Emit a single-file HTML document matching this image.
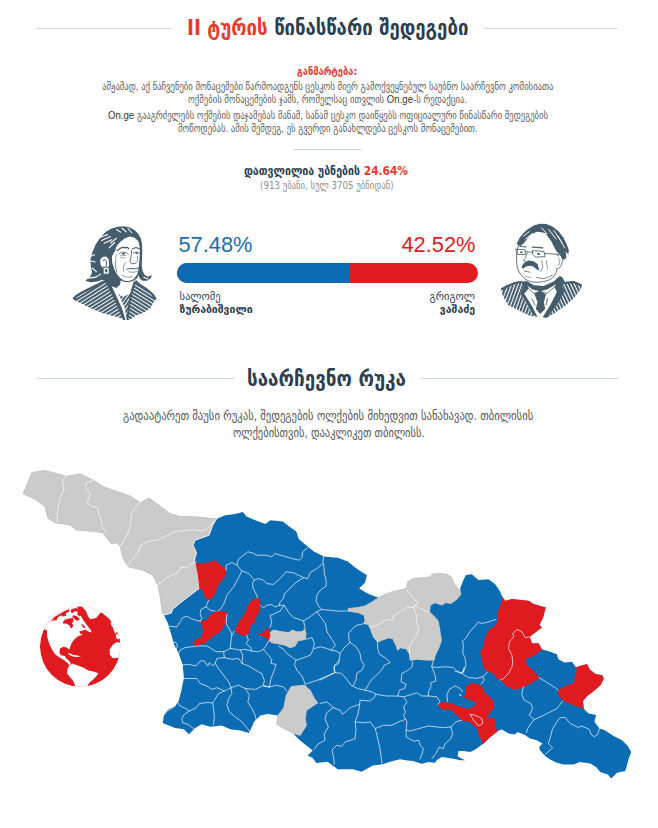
<!DOCTYPE html>
<html lang="ka">
<head>
<meta charset="utf-8">
<title>II ტურის წინასწარი შედეგები</title>
<style>
html,body{margin:0;padding:0;background:#fff;}
body{width:658px;height:828px;position:relative;overflow:hidden;font-family:"Liberation Sans","DejaVu Sans",sans-serif;color:#555;}
.t{position:absolute;white-space:nowrap;display:inline-block;transform-origin:0 0;}
.ge{font-family:"DejaVu Sans Condensed","DejaVu Sans",sans-serif;font-stretch:condensed;}
.hd{font-family:"DejaVu Sans","Liberation Sans",sans-serif;font-weight:bold;color:#2c3e50;}
.r{color:#e8392d;}
.rule{position:absolute;height:1px;background:#d3dae3;}
.p{font-size:10.6px;line-height:13px;color:#5c5c5c;font-family:"Liberation Sans","DejaVu Sans Condensed","DejaVu Sans",sans-serif;font-stretch:condensed;}
.p .l{color:#333;}
.p2{font-size:12.3px;line-height:16px;color:#555;font-family:"Liberation Sans","DejaVu Sans Condensed","DejaVu Sans",sans-serif;font-stretch:condensed;}
.num{font-family:"Liberation Sans",sans-serif;font-size:21.8px;line-height:24px;}
.nm{font-family:"DejaVu Sans",sans-serif;color:#2c3e50;font-size:10.5px;line-height:12px;}
</style>
</head>
<body>
<!-- title -->
<div class="rule" style="left:37px;top:28px;width:135px;"></div>
<div class="rule" style="left:483px;top:28px;width:135px;"></div>
<div class="t hd" id="title" style="left:187px;top:16px;transform:scaleX(0.9937);font-size:20.8px;line-height:24px;font-family:'DejaVu Sans Condensed','DejaVu Sans',sans-serif;font-stretch:condensed;"><span class="r">II ტურის</span> წინასწარი შედეგები</div>

<div class="t ge" id="expl" style="left:296.9px;top:64.5px;transform:scaleX(0.94);font-size:11px;line-height:13px;font-weight:bold;color:#e8392d;">განმარტება:</div>
<div class="t p" id="l1" style="left:102px;top:80px;transform:scaleX(0.908);">ამჟამად, აქ ნაჩვენები მონაცემები წარმოადგენს ცესკოს მიერ გამოქვეყნებულ საუბნო საარჩევნო კომისიათა</div>
<div class="t p" id="l2" style="left:188.2px;top:93px;transform:scaleX(0.908);">ოქმების მონაცემების ჯამს, რომელსაც ითვლის <span class="l">On.ge</span>-ს რედაქცია.</div>
<div class="t p" id="l3" style="left:107.5px;top:109px;transform:scaleX(0.908);"><span class="l">On.ge</span> გააგრძელებს ოქმების დაჯამებას მანამ, სანამ ცესკო დაიწყებს ოფიციალური წინასწარი შედეგების</div>
<div class="t p" id="l4" style="left:178px;top:122px;transform:scaleX(0.908);">მოწოდებას. ამის შემდეგ, ეს გვერდი განახლდება ცესკოს მონაცემებით.</div>

<div class="rule" style="left:293.5px;top:149px;width:67.5px;background:#ccd3dc;"></div>

<div class="t hd" id="cnt" style="left:243.7px;top:162.5px;font-size:12.5px;line-height:16px;font-family:'DejaVu Sans Condensed','DejaVu Sans',sans-serif;font-stretch:condensed;transform:scaleX(0.944);">დათვლილია უბნების <span class="r">24.64%</span></div>
<div class="t" id="cnt2" style="left:260.4px;top:178.5px;font-size:10.6px;line-height:13px;color:#8a8f94;font-family:'DejaVu Sans Condensed','DejaVu Sans',sans-serif;font-stretch:condensed;transform:scaleX(0.908);">(913 უბანი, სულ 3705 უბნიდან)</div>

<!-- results -->
<div class="t num" id="n1" style="left:178.5px;top:233px;color:#1a6db3;">57.48%</div>
<div class="t num" id="n2" style="left:401.5px;top:233px;color:#e01b22;">42.52%</div>
<div style="position:absolute;left:177px;top:262.5px;width:301px;height:20.5px;border-radius:10.5px;background:#e01b22;overflow:hidden;"><div style="position:absolute;left:0;top:0;bottom:0;width:172.7px;background:#0b6bb3;"></div></div>
<div class="t nm" id="a1" style="left:179.5px;top:290px;">სალომე</div>
<div class="t nm" id="a2" style="left:179.5px;top:303px;font-weight:bold;">ზურაბიშვილი</div>
<div class="t nm" id="b1" style="right:183px;top:290px;transform-origin:100% 0;">გრიგოლ</div>
<div class="t nm" id="b2" style="right:183px;top:303px;font-weight:bold;transform-origin:100% 0;">ვაშაძე</div>

<!-- map header -->
<div class="rule" style="left:37px;top:378px;width:197px;"></div>
<div class="rule" style="left:421px;top:378px;width:197px;"></div>
<div class="t hd" id="h2" style="left:247.4px;top:366.5px;transform:scaleX(1.0063);font-size:20.8px;line-height:24px;font-family:'DejaVu Sans Condensed','DejaVu Sans',sans-serif;font-stretch:condensed;">საარჩევნო რუკა</div>
<div class="t p2" id="m1" style="left:122.7px;top:408px;transform:scaleX(0.9636);">გადაატარეთ მაუსი რუკას, შედეგების ოლქების მიხედვით სანახავად. თბილისის</div>
<div class="t p2" id="m2" style="left:232.8px;top:424.5px;transform:scaleX(0.951);">ოლქებისთვის, დააკლიკეთ თბილისს.</div>

<!--MAP-->
<svg width="658" height="828" viewBox="0 0 658 828" style="position:absolute;left:0;top:0;">
<g stroke-linejoin="round">
<polygon fill="#0b6bb3" points="32,472.5 45,470.5 60,474.5 66.4,476.3 80.2,473.8 92.7,480 105.3,487.6 120.3,492.6 130.3,496.3 140.4,502.6 149,498 160.4,506.4 170.5,513.9 180.5,516.4 190,516.4 205,517.7 216.4,519 225.2,515.2 235.3,513.9 242.8,512.1 246.5,516.4 255.3,520.2 265.3,523.9 270.4,520.2 282.9,521.4 289.2,526.4 296.3,531.4 298.8,539 307.6,546.5 313.9,551.5 323.9,556.5 337.7,557.8 347.7,561.5 354.5,566.9 360.1,570.9 366.8,575.1 365.1,582.6 359.2,588.5 367.6,593.5 378.5,597.7 385.2,594.3 395.2,591 403.5,589.3 406.9,587.6 407.7,581.8 413.6,578.4 425.3,577.6 431.1,576.8 432,574.2 438.7,573.4 446.7,574.2 451.7,577.5 454.2,584.2 459.3,590.1 460.9,594.3 460.1,588.4 463.4,580.1 466,575 471.8,574.2 478.5,580.1 488.5,579.2 495.2,584.2 500.2,591.8 502.7,597.6 505.3,601 511.9,599.3 520.3,600.1 528.7,601 533.7,604.3 545.5,607.6 543,617.6 539.2,625.1 541.7,627.6 533.7,633.6 529.5,636.9 532,643.6 538.5,643.4 541.8,649.2 550.2,651.7 556.9,654.2 558.5,659.3 564.4,662.6 571.9,661.8 576.1,667.6 580.3,666 587,664.3 589.5,669.3 595.3,674.3 602,675.2 603.7,678.5 600.3,685.2 593.6,691 587,696.1 582.8,701.1 583.6,708.6 588.5,713.4 596.1,715.1 594.4,721.8 599.4,728.5 604.4,730.1 613.6,736 622,740.2 627.8,746 631.2,751.9 628.7,758.6 627,765.3 625.3,771.1 617,772.8 611.1,778.6 607.8,774.5 600.2,771.9 596.1,766.9 590.2,763.6 580.2,761.9 573.5,764.4 563.4,764.4 556.8,762.7 550.1,759.4 545.1,756.1 540,750.2 539.2,746.9 542.5,743.5 536.7,740.2 530,738.6 525.4,735.3 517.8,731.9 514.5,734.4 508.6,733.6 501.9,729.4 497.8,731.1 490.2,736.9 483.5,743.6 475.2,749.5 470.2,752 463.5,751.1 458.5,751.1 457.6,756.2 461.8,758.7 465.2,760.3 460.1,760.3 453.4,758.7 446.8,757.8 441.7,757 436.7,760.3 435.1,762.8 428.4,762 421.7,763.7 413,761 407.6,760.5 400,759.3 390,761.8 382.9,764.3 372.8,765.5 361.6,771.8 352.8,769.3 337.7,769.3 327.7,761.8 316.4,763 312.7,758 307.6,755.5 312.7,750.5 300.1,740.5 292.6,733 285.5,729.2 276.7,724.2 278,715.4 267.9,714.1 260.4,715.4 254.1,721.7 249.1,732.9 240.3,730.4 230.3,729.2 221.5,725.4 210.2,726.7 201.5,724.2 195.2,727.9 188.9,734.2 183.9,729.2 175.1,727.9 162.6,722.9 163.9,715.4 168.9,709.1 175.1,706.6 178.9,700.3 181.4,690.3 183.9,677.8 182.7,665.2 178.9,653.9 173.9,643.9 171.4,635.1 167.6,622.6 163.9,615 162.4,613 160.4,597.9 157.9,585.4 152.9,575.3 142.9,570.3 127.8,566.6 122.8,557.8 120.3,546.5 116.5,542.7 111.5,544 102.7,532.7 95.2,531.4 76.4,530 70,525 55,522.7 47.6,517.7 45,506.4 35,498.9 23,493.8"/>
<polygon fill="#cbcbcb" stroke="#cbcbcb" stroke-width="1" points="32,472.5 45,470.5 60,474.5 66.4,476.3 80.2,473.8 92.7,480 105.3,487.6 120.3,492.6 130.3,496.3 140.4,502.6 149,498 160.4,506.4 170.5,513.9 180.5,516.4 190,516.4 205,517.7 216.4,519 212.7,525.2 209,535.2 195,540.2 193,545.2 196.4,552.8 194,561.5 195.1,562.8 198.9,575.3 200.2,587.9 190,595.4 180,603 172.6,609.2 171.3,613 163.9,615 162.4,613 160.4,597.9 157.9,585.4 152.9,575.3 142.9,570.3 127.8,566.6 122.8,557.8 120.3,546.5 116.5,542.7 111.5,544 102.7,532.7 95.2,531.4 76.4,530 70,525 55,522.7 47.6,517.7 45,506.4 35,498.9 23,493.8"/>
<polygon fill="#cbcbcb" stroke="#cbcbcb" stroke-width="1" points="378.5,597.7 385.2,594.3 395.2,591 403.5,589.3 406.9,587.6 407.7,581.8 413.6,578.4 425.3,577.6 431.1,576.8 432,574.2 438.7,573.4 446.7,574.2 451.7,577.5 454.2,584.2 459.3,590.1 460.9,594.3 456.8,599.3 450.9,603.5 445.9,602.6 441.7,605.1 435,602.6 430.3,605.2 429.5,611.9 433.6,616 437.8,620.2 439.2,626.9 440.3,633.6 441.4,640.3 439,647.5 435.6,654.5 433.8,660 427,660.1 417,659.2 410.2,660.4 409.4,653.7 406.1,648.7 400.2,647.8 397.7,650.3 396,645.3 392.7,638.6 388.5,637.8 381.8,640.3 377.6,642 373.4,637 370.9,630.3 368.4,624.4 364.2,623.6 365.1,620.2 364.2,615.2 358.4,612.7 348.4,611 348.4,608.5 356.7,607.7 365.1,606 370.9,602.7"/>
<polygon fill="#cbcbcb" stroke="#cbcbcb" stroke-width="1" points="270.1,632.6 273.5,630.1 281.8,631.8 288.5,632.6 292.7,630.1 296.1,631.8 301.9,631.8 304.4,629.3 306.1,633.4 305.3,639.3 297.7,641 295.2,646 290.2,647.7 285.2,645.2 278.5,643.8 271.8,642.6 269.3,641"/>
<polygon fill="#cbcbcb" stroke="#cbcbcb" stroke-width="1" points="291.3,686.5 303.9,685.3 310.2,690.3 313.9,697.8 317.7,702.8 306.4,710.4 305.1,719.1 306.4,725.4 300.1,735.4 292.6,733 285.5,729.2 276.7,724.2 278,715.4 283.8,707.9 286.3,695.3"/>
<polygon fill="#e01b1f" stroke="#e01b1f" stroke-width="0.4" points="195.1,563.4 205.2,563.4 215.2,560.4 226.1,570.1 224.4,577.6 218.5,584.3 214.3,595.2 208.5,600.5 205.2,597.7 202.6,590.2 198.8,587.7 197.6,576.8"/>
<polygon fill="#e01b1f" stroke="#e01b1f" stroke-width="0.4" points="200.1,621.1 206.8,620.3 210.2,615.3 216.9,611.1 226.1,611.9 226.9,614.4 224.4,618.6 225.2,623.6 222.7,628.6 218.5,632.8 211.8,637 206.8,642 196,646.2 193.1,642.8 196,639.5 201,637.8 203.5,630.3 201.8,625.3"/>
<polygon fill="#e01b1f" stroke="#e01b1f" stroke-width="0.4" points="251.1,601 258.7,597.7 260.3,603.5 259.5,611.9 255.3,617.8 256.2,622 251.1,623.6 249.5,630.3 247,636.2 240.3,634.5 234.4,631.1 238.6,622.8 245.3,612.7 247.8,606"/>
<polygon fill="#e01b1f" stroke="#e01b1f" stroke-width="0.4" points="257.6,634.3 263.4,632.6 267.6,627.6 269.3,631.8 270.1,636 268.5,641 266,637.6 261.8,635.5"/>
<polygon fill="#e01b1f" stroke="#e01b1f" stroke-width="0.4" points="502.7,597.6 505.3,601 511.9,599.3 520.3,600.1 528.7,601 533.7,604.3 545.5,607.6 543,617.6 539.2,625.1 541.7,627.6 533.7,633.6 529.5,636.9 532,643.6 538.5,643.4 541.8,649.2 535.1,655.1 525.1,659.3 526.8,665.1 533.4,671 539.3,677.7 531.8,682.7 523.4,686.9 515.1,689.4 507,686.8 501.9,680.9 496.9,678.4 493.6,673.4 486.9,670.9 483.5,667 481.8,658.6 480.2,652 483.5,646.9 485.2,636.9 489.4,629.4 496.1,625.2 497.7,620.2 496.9,613.5 500.2,606.8"/>
<polygon fill="#e01b1f" stroke="#e01b1f" stroke-width="0.4" points="465.2,687.6 470.2,683.4 477.7,684.2 481.9,686.8 484.4,692.6 490.2,697.6 493.6,701.8 493.6,708.5 488.6,713.5 487.7,718.5 493.6,717.7 495.3,721 494.4,726.9 497.8,731.1 490.2,736.9 483.5,743.6 479.4,736.1 476.9,728.6 470.2,721.9 461.8,720.2 456,714.3 450.1,709.3 441.7,709.3 437.6,704.3 445.1,701.8 452.6,704.3 460.1,706.8 467.7,709.3 473.5,706.8 476.9,702.6 470.2,700.1 464.3,697.6 466,692.6"/>
<polygon fill="#e01b1f" stroke="#e01b1f" stroke-width="0.4" points="576.1,667.6 580.3,666 587,664.3 589.5,669.3 595.3,674.3 602,675.2 603.7,678.5 600.3,685.2 593.6,691 587,696.1 582.8,701.1 583.6,708.6 578.6,706.9 571.9,704.4 562.7,700.2 558.5,694.4 558.2,690.2 565.2,686 573.6,683.5 575.3,676 576.9,671"/>
</g>
<g fill="none" stroke="#fff" stroke-opacity="0.8" stroke-width="0.85" stroke-linejoin="round" stroke-linecap="round">
<polyline points="66.4,476.3 62.6,480 63.9,490.1 60.1,497.6 57.6,510.1 57.1,521.4"/>
<polyline points="92.7,480.5 86.4,482.6 85.7,487.6 90.2,493.8 87.2,502.6 91.5,506.4 97.7,507.6 99,515.2 101.5,521.4 102.8,527.7 105.8,532.2"/>
<polyline points="140.4,502.6 135.8,506.4 131.6,513.9 130.3,525.2 127.8,534 122.8,542.7 120.3,546.5"/>
<polyline points="214,522.2 206.4,528.9 200.2,530.7 192.6,529.7 185.1,530.7 175.5,531.4 165.4,536.5 157.9,540.2 147.9,541.5 140.4,545.2 137.9,552.8 132.8,559 127.8,564.1 127.3,566.6"/>
<polyline points="196.4,561.5 191.4,564 187.6,567.8 181.3,567.3 177.6,572.8 171.3,575.3 165,579.1 160,582.9 157.5,585"/>
<polyline points="216.4,519 212.7,525.2 209,535.2 195,540.2 193,545.2 196.4,552.8 194,561.5 195.1,563.4 197.6,576.8 198.8,587.7 190,595.4 180,603 172.6,609.2 171.3,613 163.9,615"/>
<polyline points="226.1,570.1 226.1,565.1 231.9,562.6 236.9,565.1 238.6,559.2 247.8,551.7 253.6,553.4 256.7,555.2 266.7,555.2 271.7,556.8 275.1,553.5 283.4,556 291.8,558.5 299.3,560.2 301.8,557.7 302.7,551.8 307.7,547.6"/>
<polyline points="236.9,565.1 241.9,570.9 238.6,577.6 233.6,586.8 226.9,595.2 224.4,602.7 221,608.6 217.7,611.1"/>
<polyline points="241.9,570.9 248.6,573.4 253.6,579.3 254.2,580.2 258.4,578.6 263.4,580.2 266.7,583.6 273.4,584.4 280.1,578.6 286,571.9 293.5,572.7 300.2,576 303.5,577.7"/>
<polyline points="254.2,580.2 252.5,583.6 253.3,588.6 255.9,593.6 257.5,597.8"/>
<polyline points="323.6,556 322.7,563.5 316.9,568.5 310.2,572.7 307.7,578.6 303.5,577.7 296.8,581.9 290.1,587.8 286.8,591.9 284.3,593.6 283.4,598.6 280.1,602 279.3,605.3"/>
<polyline points="323.6,563.5 324.4,573.5 326.1,580.2 326.1,586.1 320.2,590.3 316.9,595.3 316.1,601.1 318.6,606.2 321.9,609.5 330.3,610.3 338.6,611.2 348.4,611"/>
<polyline points="279.3,605.3 275.1,607 271.7,604.5 266.7,605.3 263.4,608 260.8,605.4"/>
<polyline points="279.3,605.3 284.3,605.3 288.5,612.5 293.5,617.6 303.6,620.9 310.3,616.7 316.9,611.7 321.9,609.5"/>
<polyline points="284.3,605.3 280.1,611 273.5,614.2 270.1,615.1 271.8,621.7 270.1,627.6"/>
<polyline points="303.6,620.9 305.3,629.3"/>
<polyline points="316.9,611.7 321.1,617.6 325.3,623.4 327,631.8 332,639.3 335.4,645.2 331.2,650.2"/>
<polyline points="208.5,600.5 206,606.9 201,609.4 200.1,613.6 201.8,618.6 200.1,621.1"/>
<polyline points="206,606.9 210.2,610.2 215.2,611.1"/>
<polyline points="169.2,626.1 176.7,627 180.1,621.9 182.6,617.8 186.8,616.1 190.9,618.6 196,620.3 200.1,621.1"/>
<polyline points="226.9,614.4 226.1,623.6 230.2,630.3 231.9,635.3 231.1,640 230.3,648.4 223.6,651.7 216,651.7 211,648.4 206.8,645.9 199.3,645.9 192.6,646.7 185.1,647.6 180.1,650.1 177.6,655.1"/>
<polyline points="234.4,631.1 231.9,635.3"/>
<polyline points="170.9,641.7 175.9,642.5 177.6,645.9 175.9,650.1"/>
<polyline points="223.6,651.7 224.4,657.6 216.9,658.4 215.2,663.4 212.7,666 209.3,662.6 207.7,666 204.3,660.9 200.2,660.9 196,666 188.4,664.3 181.8,665.1"/>
<polyline points="215.2,663.4 218.5,668.5 223.6,675.2 228.6,681.8 231.1,687.7 238.6,685.2 245.3,688.5 255.3,689.4 262,686 269.3,687"/>
<polyline points="224.4,657.6 231.9,659.3 238.6,658.4 242,663.4 248.6,666 255.3,670.1 261.8,673.6"/>
<polyline points="230.3,648.4 240.3,650.1 242.8,655.1 242,663.4"/>
<polyline points="240.3,650.1 245.1,649.3 251.7,651 258.4,651.8 263.4,649.3 266,646 268.5,641"/>
<polyline points="246.7,635.1 248.4,640.1 245.9,643.5 250.9,647.7 251.7,651"/>
<polyline points="263.4,649.3 268.5,655.2 271.8,659.4 271,663.5 276,664.4 274.3,670.2 271,678.6 269.3,687"/>
<polyline points="261.8,673.6 264.3,680.3 263.4,685.3 269.3,687"/>
<polyline points="231.1,687.7 224.4,691 218.5,693.5 216,697.7 212.7,702.7 213.5,708.6 214.4,717 213.5,724.5"/>
<polyline points="182.6,678.5 190.1,678.5 196.8,678.5 200.2,683.5 206.8,686 211.9,689.4 216.9,687.7 221.1,689.4 224.4,691"/>
<polyline points="212.7,702.7 205.2,702.7 199.3,703.6 196,707.8 189.3,711.1 184.3,714.4 181.8,718.6 182.6,722.8 188.4,724.5 193.5,728.7"/>
<polyline points="177.6,701.9 180.1,706.1 185.9,708.6 189.3,711.1"/>
<polyline points="168.4,710.3 171.7,708.6 175.1,705.3"/>
<polyline points="231.1,687.7 231.9,693.5 228.6,698.6 226.9,705.3 229.4,711.9 235.3,717 242,722 247.8,728.7 250.3,732.8"/>
<polyline points="245.3,688.5 249.5,695.2 247.8,701.9 252,708.6 255.3,715.3 256.2,720.3"/>
<polyline points="269.3,687 276.8,685.3 283.5,687 286.9,691.1"/>
<polyline points="306.1,639.3 311.9,637.6 314.4,643.5 312.8,650.2 310.3,655.2 303.6,657.7 296.1,660.2 292.7,657.7 286.9,653.5 283.5,649.3 278.5,646"/>
<polyline points="314.4,648.5 320.3,646.8 327,648.5 331.2,650.2 335.9,650.9 340.1,653.4 345.1,646.7 350.1,642.5 349.2,640.3 348.4,633.6 351.7,629.4 356.7,625.3 364.2,623.6"/>
<polyline points="296.1,660.2 294.4,664.4 296.9,670.2 301.9,676.1 304.4,681.9 306.1,687"/>
<polyline points="306.9,683.6 316.9,680.3 327,676.1 334.5,672.6 333.7,666.9 338.7,663.5 339.2,660.1"/>
<polyline points="340.1,653.4 339.2,660.1 334.2,665.9 335.1,672.6 328.4,676 320,680.1"/>
<polyline points="335.1,672.6 341.7,673.4 346.8,679.3 350.9,685.2 357.6,688.5 365.2,690.2 371.8,691.8 376,694.3 386.9,696 397.8,696 403.6,696.8 412,694.3 417,692.7 422,696 428.4,696 436.7,696.8 440.1,701.8 437.6,704.3"/>
<polyline points="350.1,642.5 356,646.7 360.1,653.4 361,660.1 364.3,665.1 361.8,670.1 356.8,673.4 356,680.1 353.4,685.2"/>
<polyline points="365.2,690.2 368.5,684.3 371.8,679.3 378.5,673.4 382.7,668.4 384.4,665.1 390.2,662.6 386.1,658.4 379.4,654.2 377.7,648.4 377.6,642"/>
<polyline points="397.8,696 399.4,690.2 404.4,688.5 406.1,684.3 401.1,681.8 401.9,673.4 407,670.9 412,666.8 412.8,661.7"/>
<polyline points="376,694.3 373.5,698.5 369.3,701 360.1,700.2 359.3,706.9 357.6,715.3 355.1,721.9 356,730.3 355.1,738.7 345.1,742 341.7,746.2 336.7,745.4 332,750 333.5,756.9 334.4,764.4"/>
<polyline points="320,703.5 326.7,701.9 333.4,707.7 340.1,710.2 342.6,714.4 350.1,707.7 359.3,704.4"/>
<polyline points="333.4,707.7 326.7,712.7 325,718.6 328.4,727 324.2,733.6 325,740.3 318,744 314.3,749.3"/>
<polyline points="355.1,721.9 363.5,722.8 370.2,721.9 375.2,728.6 376.9,735.3 378.5,742 380.2,750 382,764"/>
<polyline points="375.2,728.6 383.5,725.3 391.9,725.3 398.6,721.9 405.3,719.4"/>
<polyline points="403.6,696.8 407,701.9 403.6,706.9 405.3,711.9 403.6,715.3 407,721.9 406.1,730.3 410.3,731.1 418.7,728.6 428.4,726 436.7,726.9 443.4,727.7 450.9,726.9 456,721.9 461.8,720.2"/>
<polyline points="406.1,730.3 406.1,737 413.6,741.2 418.7,740.3 420.3,745.3 423.3,748.6 421.7,755.3 420,759"/>
<polyline points="450.9,726.9 452.6,733.6 450.9,738.6 445.1,743.6 443.4,748.6 439.2,747 435.9,753.6 431.7,758.7"/>
<polyline points="433.8,659.3 431.7,666.7 436.7,667.5 445.1,666.7 453.4,667.5 456.8,670.9 461.8,673.4 464.3,667.5 463.4,672"/>
<polyline points="431.7,666.7 435.1,675.1 435.9,680.9 430.9,682.6 430.9,686.8 428.4,691.8 428.4,696"/>
<polyline points="461.8,673.4 468.5,677.6 476.9,678.4 482.7,676.7 484.4,680.1 481,684.2"/>
<polyline points="482.7,676.7 487.7,672"/>
<polyline points="447.6,701.8 446.8,695.1 449.3,689.3 455.1,685.9 460.1,688.4 462.6,691.8"/>
<polyline points="496.1,619.3 488.5,621.9 481.8,623.5 478.5,621.9 474.3,626.9 470.1,631.1 466.8,636.9 462.6,641.1 463.4,646.9 462.6,652 465.1,658.6 466,665.3 463.4,672 460.9,672.9 455.1,671.2"/>
<polyline points="529.5,636.9 525.3,637.7 522,631.9 517,629.4 512.8,633.6 513.6,636.9 509.4,641.9 508.6,648.6 511.9,655.3 512.8,662 512,666.7 508.6,673.4 503.6,678.4 500.3,680.1"/>
<polyline points="470.2,714.3 475.2,715.2 481.9,718.5 482.7,723.5 478.5,726 473.5,720.2 470.2,714.3"/>
<polyline points="539.3,677.7 548.5,683.5 555.2,687.7 558.2,690.2"/>
<polyline points="562.7,701.1 556.9,708.6 548.5,712.8 540.1,717 534.3,719.5"/>
<polyline points="523.4,686.9 521.7,694.4 524.2,700.2 530.9,703.6 532.6,708.6 529.3,715.3 534.3,719.5 530.9,723.6 527.6,728.7 526.4,732.9"/>
<polyline points="545.1,754.4 552.6,747.7 548.4,743.5 550.9,735.2 552.6,728.5 556.8,721.8 560.1,717.6 565.1,717.6 570.1,723.4 578.5,727.6 581,725.9 589.4,729.3 591,734.3 594.4,736.8 597.7,734.3 599.4,728.5"/>
<polyline points="406.9,590.1 410.2,594.3 414.4,600.2 418.6,602.7 415.3,605.2 413.6,607.7"/>
<polyline points="413.6,607.7 406.9,606.9 402.7,610.2 398.5,612.7 393.5,616 392.7,620.2 388.5,619.4 383.5,621.1 378.5,624.4 373.4,626.9 370.1,626.1"/>
<polyline points="413.6,607.7 416.9,616 416.1,621.9 418.6,628.6 416.9,635.3 412.7,641.1 409.4,647 409.4,653.7"/>
<polyline points="415.3,605.2 420.3,608.5 425.3,611 429.5,611.9"/>
</g>
<ellipse id="tbsea" cx="460.3" cy="695" rx="1.3" ry="0.6" fill="#fff" transform="rotate(35 460.3 695)"/>
</svg>
<!--/MAP-->
<!--GLOBE-->
<svg viewBox="0 0 658 658" width="86" height="86" style="position:absolute;left:38px;top:604px;">
<defs><clipPath id="gc"><circle cx="323" cy="326" r="308"/></clipPath></defs>
<g clip-path="url(#gc)">
<circle cx="323" cy="326" r="309" fill="#e01b1f"/>
<g fill="#fff">
<path d="M50,195 L30,150 L80,60 L200,0 L300,0 L300,22 L315,60 L330,95 L345,120 L365,150 L385,175 L405,200 L410,218 L385,210 L360,195 L340,205 L315,210 L325,230 L345,235 L310,245 L290,260 L270,280 L255,305 L245,330 L238,352 L225,335 L195,328 L170,338 L163,370 L175,392 L205,397 L215,415 L235,432 L250,452 L240,470 L225,450 L200,430 L165,410 L130,385 L105,345 L85,300 L70,250 L68,200 Z"/>
<path d="M240,470 L262,455 L300,468 L350,488 L385,508 L430,518 L462,530 L445,555 L420,580 L395,600 L378,627 L370,660 L290,660 L285,628 L270,590 L245,560 L222,530 L226,498 Z"/>
<path d="M640,296 L600,293 L572,312 L548,348 L550,390 L573,416 L615,412 L650,400 Z"/>
<path d="M598,232 L612,228 L622,250 L618,270 L604,268 L596,250 Z"/>
<path d="M556,140 L575,150 L590,180 L603,215 L590,230 L580,200 L570,175 L558,160 Z M556,140 L620,140 L620,230 L600,215Z"/>
<path d="M330,10 L345,30 L365,52 L385,97 L400,117 L445,107 L470,77 L485,62 L470,10 Z"/>
<path d="M228,376 L250,379 L270,390 L300,394 L330,400 L300,406 L265,401 L240,390 Z"/>
</g>
<g fill="#e01b1f">
<path d="M190,140 L205,120 L235,110 L268,108 L272,130 L260,150 L272,168 L252,188 L240,162 L215,150 L195,152 Z"/>
<path d="M255,40 L290,30 L325,45 L335,80 L320,95 L300,80 L305,60 L280,55 L262,70 L250,60 Z"/>
<path d="M95,138 L125,100 L165,76 L200,56 L235,40 L242,55 L212,70 L217,90 L190,96 L175,86 L150,106 L140,126 L118,124 Z"/>
<path d="M270,85 L300,95 L320,115 L300,130 L280,115 L262,100 Z"/>
<path d="M330,150 L350,160 L365,185 L345,180 Z"/>
</g>
</g>
</svg>
<!--/GLOBE-->
<!--WOMAN-->
<svg width="658" height="828" viewBox="0 0 658 828" style="position:absolute;left:0;top:0;pointer-events:none;">
<defs>
<pattern id="hL" width="19" height="19" patternUnits="userSpaceOnUse" patternTransform="rotate(58)"><rect width="19" height="19" fill="#fff"/><rect width="13" height="19" fill="#445c6c"/></pattern>
<pattern id="hR" width="19" height="19" patternUnits="userSpaceOnUse" patternTransform="rotate(-58)"><rect width="19" height="19" fill="#fff"/><rect width="13" height="19" fill="#445c6c"/></pattern>
<pattern id="hV" width="18" height="18" patternUnits="userSpaceOnUse" patternTransform="rotate(35)"><rect width="18" height="18" fill="#fff"/><rect width="12" height="18" fill="#445c6c"/></pattern>
</defs>
<!-- woman: garment in z6 coords -->
<g transform="translate(60,215) scale(0.16722)">
<path fill="url(#hL)" d="M75,500 L95,478 L130,458 L175,435 L215,415 L250,398 L272,385 L300,430 L330,500 L362,580 L385,628 L350,612 L300,600 L250,585 L200,565 L160,545 L120,525 L90,512 Z"/>
<path fill="url(#hR)" d="M455,390 L480,413 L520,438 L555,468 L578,500 L560,522 L540,558 L500,585 L450,602 L420,626 L400,628 L405,570 L415,500 L430,440 Z"/>
<path fill="url(#hV)" d="M300,430 L345,470 L380,490 L415,470 L430,440 L415,500 L405,570 L400,628 L385,628 L362,580 L330,500 Z"/>
<path fill="#445c6c" d="M75,500 L95,478 L130,458 L175,435 L215,415 L250,398 L262,392 L268,402 L225,425 L180,447 L135,470 L100,492 L92,512 Z"/>
<path fill="#445c6c" d="M455,390 L480,413 L520,438 L555,468 L578,500 L565,505 L545,475 L512,448 L472,422 L450,400 Z"/>
<path fill="#445c6c" d="M262,392 L290,380 L330,470 L372,560 L392,628 L380,628 L355,575 L318,492 L285,425 Z"/>
<path fill="#fff" d="M290,380 L305,375 L345,462 L386,552 L400,628 L392,628 L372,560 L330,470 Z"/>
<path fill="#445c6c" d="M440,400 L455,390 L438,450 L422,520 L412,600 L408,628 L398,628 L404,560 L415,495 L428,440 Z"/>
</g>
<!-- head in z8 coords -->
<g transform="translate(80,220) scale(0.12158)">
<path fill="#445c6c" d="M215,95 L260,70 L310,55 L360,52 L410,62 L450,85 L480,115 L500,150 L510,200 L512,260 L510,320 L508,380 L515,420 L530,450 L560,466 L592,452 L582,480 L552,500 L515,500 L492,482 L480,455 L470,480 L440,500 L400,512 L360,508 L335,495 L330,530 L300,560 L250,540 L215,500 L185,492 L140,505 L90,512 L45,502 L58,488 L85,465 L100,430 L90,390 L85,330 L100,270 L130,200 L170,140 Z"/>
<path fill="#fff" d="M262,300 L290,250 L300,215 L330,180 L370,150 L410,135 L450,145 L480,175 L490,215 L492,260 L490,320 L485,370 L480,410 L470,450 L440,488 L400,503 L360,498 L330,478 L300,440 L280,400 L265,350 Z"/>
<path fill="#fff" d="M165,330 L185,305 L215,300 L235,320 L240,360 L235,400 L215,420 L190,400 L170,370 Z"/>
<path fill="none" stroke="#445c6c" stroke-width="8" d="M185,335 L205,325 L220,345 L215,380"/>
<rect x="190" y="388" width="50" height="58" fill="#fff" stroke="#445c6c" stroke-width="9"/>
<rect x="206" y="404" width="18" height="26" fill="#445c6c"/>
<g fill="none" stroke="#fff" stroke-width="9" stroke-linecap="round">
<path d="M168,142 L228,120"/><path d="M178,168 L250,136"/><path d="M198,192 L262,162"/>
<path d="M300,78 L335,100"/><path d="M345,66 L380,98"/><path d="M395,70 L425,105"/>
<path d="M250,190 L300,150"/><path d="M240,230 L285,185"/>
<path d="M80,300 L120,285"/><path d="M85,335 L125,345"/><path d="M100,395 L135,425"/><path d="M70,478 L130,470 L170,445"/>
<path d="M525,470 L560,485"/>
</g>
<g fill="none" stroke="#445c6c" stroke-linecap="round" stroke-linejoin="round">
<path stroke-width="10" d="M305,250 L340,228 L390,225 L402,236"/>
<path stroke-width="6" d="M320,278 L345,264 L385,268 L397,282"/>
<path stroke-width="4" d="M330,290 L380,293"/>
<path stroke-width="9" d="M432,236 L460,226 L490,236"/>
<path stroke-width="6" d="M440,272 L465,263 L490,273"/>
<path stroke-width="7" d="M425,250 L420,300 L410,345 L425,360 L455,358 L466,345"/>
<path stroke-width="5" d="M470,295 L476,340"/>
<path stroke-width="8" d="M385,405 L420,398 L450,401 L480,395"/>
<path stroke-width="5" d="M400,426 L440,431 L470,421"/>
<path stroke-width="5" d="M372,350 L355,390 L360,420"/>
<path stroke-width="6" d="M295,330 L290,380 L305,430"/>
<path stroke-width="4" d="M330,306 L372,313"/>
<path stroke-width="5" d="M345,455 L385,470 L430,468"/>
<path stroke-width="5" d="M300,285 L292,320"/>
</g>
<ellipse cx="358" cy="277" rx="13" ry="8" fill="#445c6c"/>
<ellipse cx="466" cy="273" rx="10" ry="7" fill="#445c6c"/>
</g>
</svg>
<!--/WOMAN-->
<!--MAN-->
<svg width="658" height="828" viewBox="0 0 658 828" style="position:absolute;left:0;top:0;pointer-events:none;">
<defs>
<pattern id="mL" width="19" height="19" patternUnits="userSpaceOnUse" patternTransform="rotate(20)"><rect width="19" height="19" fill="#fff"/><rect width="12.5" height="19" fill="#445c6c"/></pattern>
<pattern id="mR" width="19" height="19" patternUnits="userSpaceOnUse" patternTransform="rotate(-25)"><rect width="19" height="19" fill="#fff"/><rect width="12.5" height="19" fill="#445c6c"/></pattern>
</defs>
<!-- body z6 -->
<g transform="translate(490,215) scale(0.16722)">
<path fill="url(#mL)" d="M65,440 L100,420 L150,400 L185,395 L200,430 L180,470 L215,520 L250,590 L275,608 L230,600 L170,570 L110,540 L75,480 Z"/>
<path fill="url(#mR)" d="M445,400 L500,395 L550,415 L545,440 L500,500 L440,550 L380,590 L340,615 L400,540 L450,450 L430,430 Z"/>
<path fill="#445c6c" d="M65,440 L100,420 L150,400 L185,395 L188,405 L150,412 L105,432 L80,455 Z"/>
<path fill="#445c6c" d="M445,400 L500,395 L550,415 L545,428 L500,408 L450,412 Z"/>
<path fill="#445c6c" d="M185,395 L215,400 L232,440 L204,470 L248,540 L285,612 L255,595 L215,520 L180,470 L200,430 Z"/>
<path fill="#445c6c" d="M430,370 L448,400 L430,430 L452,450 L400,540 L340,616 L315,612 L360,540 L400,460 L385,430 L402,400 Z"/>
<path fill="#445c6c" d="M265,470 L300,455 L335,475 L322,520 L330,562 L300,592 L274,562 L284,520 Z"/>
<path fill="#445c6c" d="M205,392 L225,398 L262,420 L320,424 L380,398 L418,365 L432,372 L402,410 L342,446 L300,456 L255,446 L225,424 Z"/>
<g fill="none" stroke="#445c6c" stroke-width="5">
<path d="M232,440 L262,470 L300,455"/><path d="M385,430 L340,470 L300,455"/>
<path d="M250,500 L270,540"/><path d="M345,495 L335,540"/>
</g>
</g>
<!-- head z8 -->
<g transform="translate(505,218) scale(0.12158)">
<path fill="#445c6c" d="M240,60 L290,48 L340,50 L390,70 L440,110 L480,160 L505,210 L525,265 L520,300 L500,275 L495,312 L480,290 L470,330 L455,300 L440,292 L420,270 L400,230 L380,190 L350,150 L335,125 L300,118 L262,114 L222,132 L188,164 L158,204 L128,230 L95,214 L120,165 L150,125 L190,90 Z"/>
<g fill="none" stroke="#fff" stroke-width="8" stroke-linecap="round">
<path d="M360,95 L420,172"/><path d="M402,104 L468,200"/><path d="M436,150 L490,245"/><path d="M150,150 L200,112"/><path d="M170,170 L225,128"/><path d="M300,80 L345,130"/>
</g>
<g fill="none" stroke="#445c6c" stroke-linecap="round" stroke-linejoin="round">
<path stroke-width="7" d="M118,205 C95,260 90,330 100,400 C110,450 150,500 200,520 C250,535 320,530 372,505 C400,490 420,460 428,425"/>
<path stroke-width="7" d="M428,305 C468,290 482,340 466,380 C456,410 436,426 420,416"/>
<path stroke-width="5" d="M440,330 C455,336 455,370 440,390"/>
<path stroke-width="7" d="M90,256 L165,262 L170,300 L110,300 Z"/>
<path stroke-width="7" d="M230,268 L320,275 L330,318 L250,322 L228,300 Z"/>
<path stroke-width="6" d="M168,276 L230,282"/>
<path stroke-width="7" d="M330,292 L442,300"/>
<path stroke-width="9" d="M120,232 L175,238"/>
<path stroke-width="10" d="M225,240 L310,246"/>
<path stroke-width="6" d="M185,285 L165,335 L150,350 L175,360 L200,352"/>
<path stroke-width="6" d="M160,436 L205,446"/>
<path stroke-width="4" d="M170,480 L215,490"/>
<path stroke-width="5" d="M300,350 L312,400 L292,440"/>
<path stroke-width="6" d="M260,490 L320,500 L390,470"/>
<path stroke-width="5" d="M340,350 L350,420"/>
</g>
<path fill="#445c6c" d="M135,405 L155,370 L195,352 L235,355 L268,378 L282,432 L258,422 L232,398 L200,392 L172,398 L150,418 Z"/>
<ellipse cx="135" cy="281" rx="11" ry="7" fill="#445c6c"/>
<ellipse cx="276" cy="296" rx="13" ry="8" fill="#445c6c"/>
<path fill="#445c6c" d="M455,300 L500,285 L505,330 L480,345 L470,330 Z"/>
</g>
</svg>
<!--/MAN-->
</body>
</html>
